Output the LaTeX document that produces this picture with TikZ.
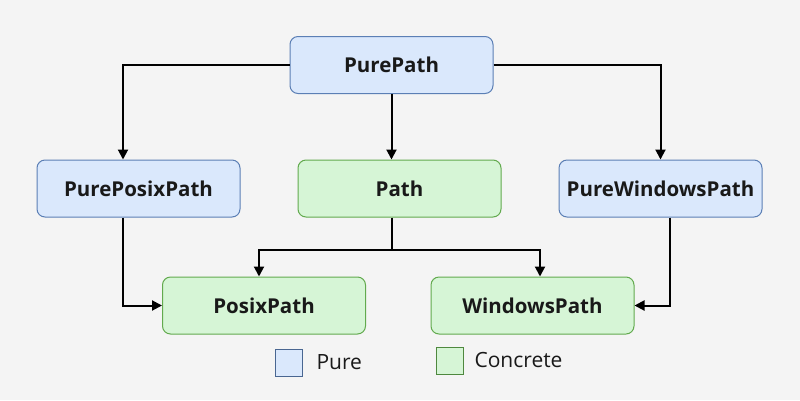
\documentclass[tikz,border=0pt]{standalone}
\usepackage{fontspec}
\setmainfont{Open Sans}
\usetikzlibrary{arrows.meta}

\definecolor{bgcol}{HTML}{F4F4F4}
\definecolor{purefill}{HTML}{DAE8FC}
\definecolor{pureline}{HTML}{5B7FB5}
\definecolor{concfill}{HTML}{D6F5D6}
\definecolor{concline}{HTML}{62AA4E}

\begin{document}
\begin{tikzpicture}[
	x=1pt, y=-1pt,
	box/.style={draw, rounded corners=8pt, line width=1pt, minimum width=203pt, minimum height=57pt,
		text=black!90, font=\fontsize{20.5}{24}\selectfont\bfseries},
	pure/.style={box, fill=purefill, draw=pureline},
	concrete/.style={box, fill=concfill, draw=concline},
	link/.style={line width=2pt, -{Triangle[length=10pt,width=10pt]}},
	key/.style={draw, line width=1pt, minimum size=27pt, inner sep=0pt},
	keytext/.style={anchor=west, text=black!90, font=\fontsize{21}{25}\selectfont},
	]

	% background
	\fill[bgcol] (0,0) rectangle (800,400);

	% --- class boxes ---
	\node[pure] (purepath) at (391.5,65) {PurePath};
	\node[pure] (pureposix) at (138.5,188.5) {PurePosixPath};
	\node[concrete] (path) at (399.5,188.5) {Path};
	\node[pure] (purewin) at (660.5,188.5) {PureWindowsPath};
	\node[concrete] (posix) at (264,305.5) {PosixPath};
	\node[concrete] (windows) at (532.5,305.5) {WindowsPath};

	% --- inheritance arrows ---
	\draw[link] (purepath.west) -| ([xshift=-15.5pt]pureposix.north);
	\draw[link] (purepath.east) -| (purewin.north);
	\draw[link] (purepath.south) -- (purepath.south |- path.north);

	% Path splits into the two concrete flavours
	\coordinate (split) at (391.5,250);
	\draw[line width=2pt] (split |- path.south) -- (split);
	\draw[link] (split) -| ([xshift=-5pt]posix.north);
	\draw[link] (split) -| ([xshift=7.5pt]windows.north);

	\draw[link] ([xshift=-15.5pt]pureposix.south) |- (posix.west);
	\draw[link] ([xshift=9.5pt]purewin.south) |- (windows.east);

	% --- legend ---
	\node[key, fill=purefill, draw=pureline!80!black] (purekey) at (288.5,362.5) {};
	\node[keytext] (purelabel) at (313,362) {Pure};
	\node[key, fill=concfill, draw=concline!80!black] (conckey) at (449.5,360.5) {};
	\node[keytext] (conclabel) at (471,360) {Concrete};

\end{tikzpicture}
\end{document}
